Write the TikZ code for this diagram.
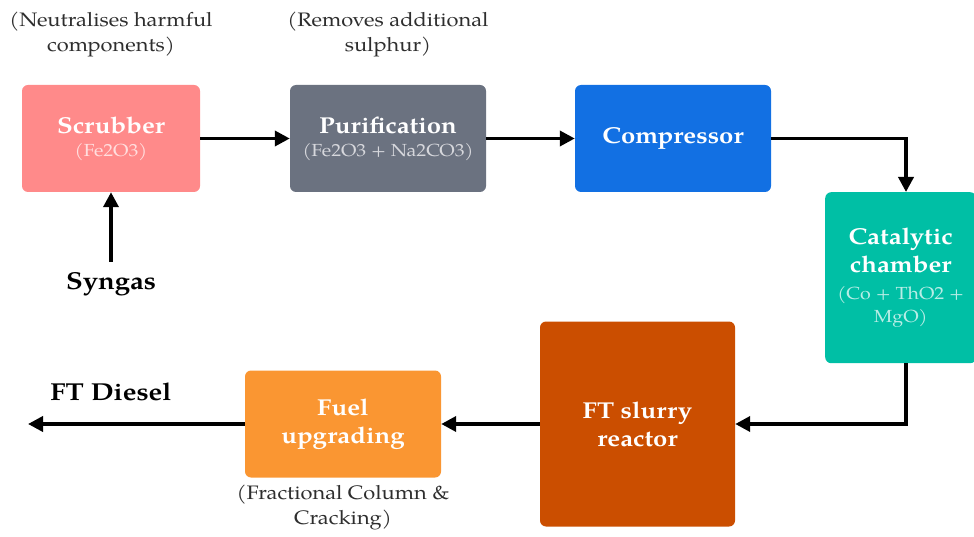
\documentclass[tikz,border=0pt]{standalone}
\usepackage{fontspec}
\setmainfont{TeX Gyre Pagella}[FakeStretch=1.12]
\usetikzlibrary{arrows.meta}
\definecolor{cscrub}{HTML}{FF8A8A}
\definecolor{cpurif}{HTML}{6B7280}
\definecolor{ccomp}{HTML}{1270E3}
\definecolor{ccat}{HTML}{00BFA5}
\definecolor{creact}{HTML}{CB4E00}
\definecolor{cfuel}{HTML}{FA9632}
\definecolor{cnote}{HTML}{2E2E2E}
\tikzset{
  box/.style={rounded corners=6pt, draw=none, text=white, align=center, inner sep=2pt},
  boldbox/.style={box, font=\fontsize{23}{27}\selectfont\bfseries},
  flow/.style={line width=3.6pt, -{Triangle[length=15pt,width=15pt]}},
  note/.style={text=cnote, align=center, font=\fontsize{19.5}{25}\selectfont},
  lbl/.style={font=\fontsize{24.5}{28}\selectfont\bfseries, text=black}
}
\newcommand{\subt}[2]{{\fontsize{17.5}{21}\selectfont\mdseries\color{white!72!#1}#2}}
\begin{document}
\begin{tikzpicture}[x=1pt,y=-1pt]
\useasboundingbox (0,0) rectangle (974,537);
% boxes
\node[boldbox, fill=cscrub, minimum width=178, minimum height=107] (scrub) at (111,138.5)
  {Scrubber\\[-4pt]\subt{cscrub}{(Fe2O3)}};
\node[boldbox, fill=cpurif, minimum width=196, minimum height=107] (purif) at (388,138.5)
  {Purification\\[-4pt]\subt{cpurif}{(Fe2O3 + Na2CO3)}};
\node[boldbox, fill=ccomp, minimum width=196, minimum height=107] (comp) at (673,138.5)
  {Compressor};
\node[boldbox, fill=ccat, minimum width=151, minimum height=171, anchor=north west] (cat) at (825,192)
  {Catalytic\\[1pt]chamber\\[0pt]\subt{ccat}{(Co + ThO2 +}\\[-4pt]\subt{ccat}{MgO)}};
\node[boldbox, fill=creact, minimum width=195, minimum height=205] (react) at (637.5,424)
  {FT slurry\\[1pt]reactor};
\node[boldbox, fill=cfuel, minimum width=196, minimum height=107] (fuel) at (343,424)
  {Fuel\\[1pt]upgrading};
% notes
\node[note] (n1) at (111,34) {(Neutralises harmful\\components)};
\node[note] (n2) at (388,34) {(Removes additional\\sulphur)};
\node[note] (n3) at (343,508) {(Fractional Column \&\\Cracking)};
% labels
\node[lbl] (syn) at (111,284) {Syngas};
\node[lbl] (ftd) at (111,392) {FT Diesel};
\coordinate (synTop) at (111,262);
\coordinate (out) at (28,424);
% connectors
\draw[flow] (synTop) -- (scrub.south);
\draw[flow] (scrub.east) -- (purif.west);
\draw[flow] (purif.east) -- (comp.west);
\draw[flow] (comp.east) -| (cat.north -| 906,0);
\draw[flow] (cat.south -| 906,0) |- (react.east);
\draw[flow] (react.west) -- (fuel.east);
\draw[flow] (fuel.west) -- (out);
\end{tikzpicture}
\end{document}
